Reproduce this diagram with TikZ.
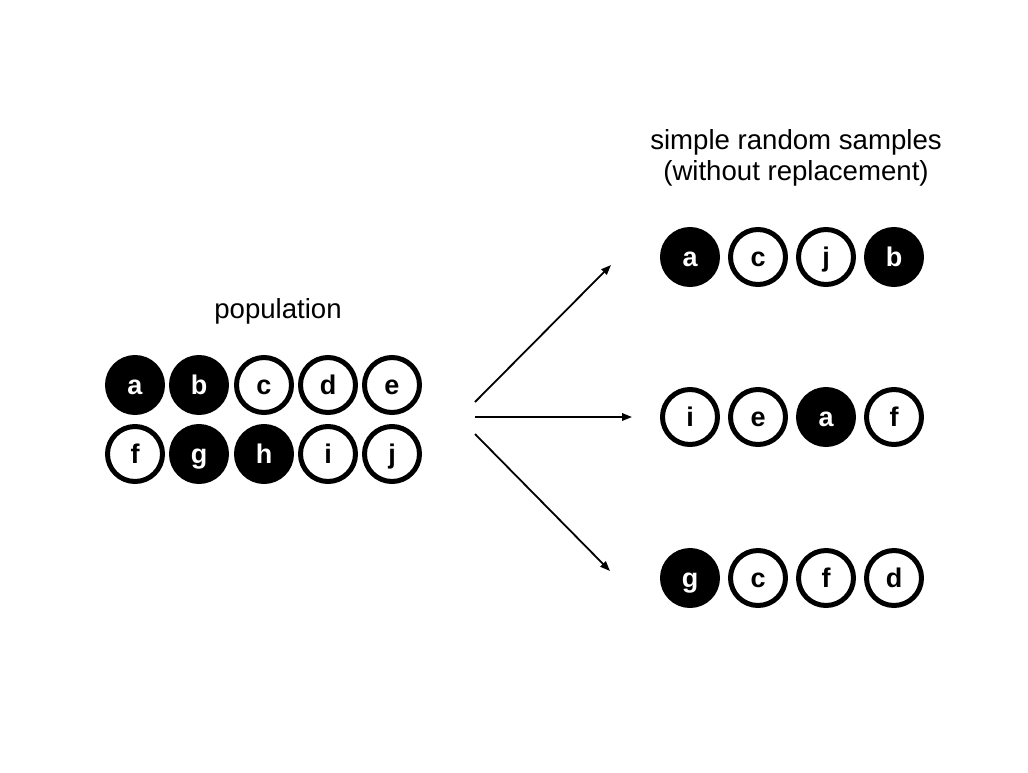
\documentclass[tikz,border=0pt]{standalone}
\usepackage{fontspec}
\setmainfont{Liberation Sans}
\usetikzlibrary{arrows.meta}
\begin{document}
\begin{tikzpicture}[x=1pt,y=-1pt,
  ball/.style={circle,minimum size=55pt,inner sep=0pt,line width=5pt,draw=black,
    text height=18pt,text depth=0pt,font=\fontsize{27}{29}\selectfont\bfseries},
  full/.style={ball,fill=black,text=white},
  empty/.style={ball,fill=white,text=black},
  lbl/.style={font=\fontsize{27.6}{31}\selectfont,align=center},
  arr/.style={line width=1.8pt,-{Triangle[length=10pt,width=7.5pt]}}]
\useasboundingbox (0,0) rectangle (1028,772);
\node[lbl] (pop) at (278,311) {population};
\node[lbl] (srs) at (796,158) {simple random samples\\(without replacement)};
% population
\node[full]  (pa) at (135,385) {a};
\node[full]  (pb) at (199,385) {b};
\node[empty] (pc) at (264,385) {c};
\node[empty] (pd) at (328,385) {d};
\node[empty] (pe) at (392,385) {e};
\node[empty] (pf) at (135,454) {f};
\node[full]  (pg) at (199,454) {g};
\node[full]  (ph) at (264,454) {h};
\node[empty] (pi) at (328,454) {i};
\node[empty] (pj) at (392,454) {j};
% samples
\node[full]  (s1a) at (690,257) {a};
\node[empty] (s1b) at (758,257) {c};
\node[empty] (s1c) at (826,257) {j};
\node[full]  (s1d) at (894,257) {b};
\node[empty] (s2a) at (690,417) {i};
\node[empty] (s2b) at (758,417) {e};
\node[full]  (s2c) at (826,417) {a};
\node[empty] (s2d) at (894,417) {f};
\node[full]  (s3a) at (690,578) {g};
\node[empty] (s3b) at (758,578) {c};
\node[empty] (s3c) at (826,578) {f};
\node[empty] (s3d) at (894,578) {d};
% arrows
\coordinate (o1) at (475,402);
\coordinate (o2) at (475,417);
\coordinate (o3) at (475,434);
\coordinate (t1) at (611,265);
\coordinate (t2) at (632,417);
\coordinate (t3) at (610,571);
\draw[arr] (o1) -- (t1);
\draw[arr] (o2) -- (t2);
\draw[arr] (o3) -- (t3);
\end{tikzpicture}
\end{document}
